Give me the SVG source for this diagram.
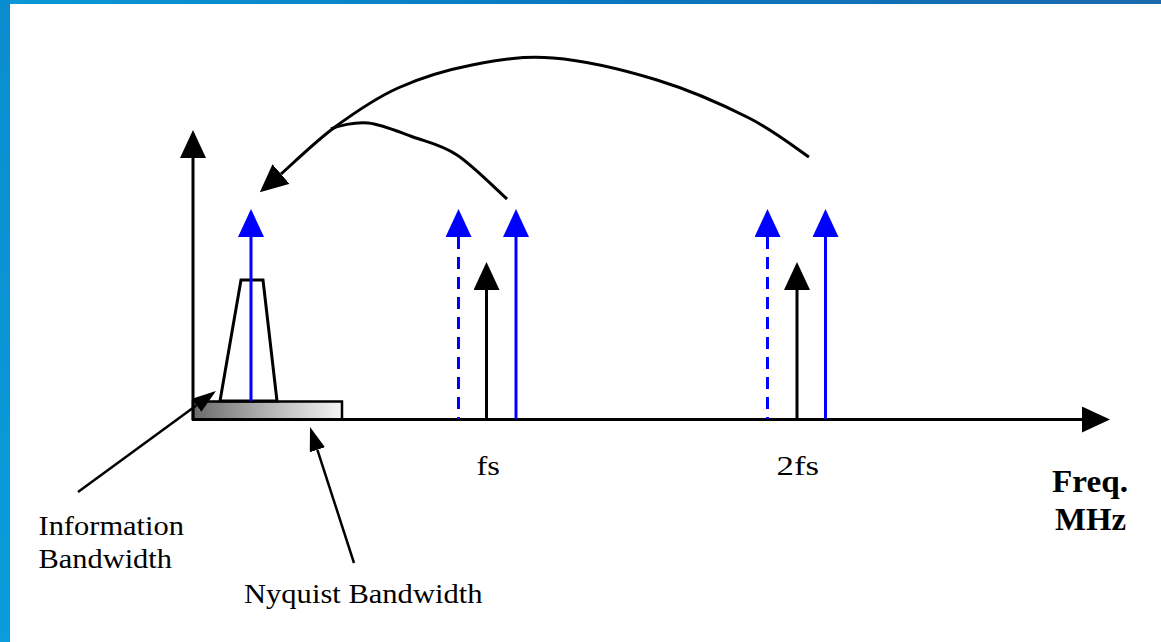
<svg xmlns="http://www.w3.org/2000/svg" width="1161" height="642" viewBox="0 0 1161 642">
  <style>
    .ax { stroke: #000; stroke-width: 3; fill: none; }
    .blue { stroke: #0000ff; stroke-width: 3; fill: none; }
    .dash { stroke-dasharray: 12 8; }
    .blk { stroke: #000; stroke-width: 3; fill: none; }
    .ptr { stroke: #000; stroke-width: 2.5; fill: none; }
    .lbl { font-family: "Liberation Serif", "Times New Roman", serif; font-size: 28px; fill: #000; }
    .unit { font-family: "Liberation Serif", "Times New Roman", serif; font-size: 31px; font-weight: bold; fill: #000; }
  </style>
  <defs>
    <linearGradient id="topBand" x1="0" y1="0" x2="1" y2="0">
      <stop offset="0" stop-color="#0b99d7"/>
      <stop offset="0.5" stop-color="#0a78bf"/>
      <stop offset="1" stop-color="#1c69ad"/>
    </linearGradient>
    <linearGradient id="leftBand" x1="0" y1="0" x2="0" y2="1">
      <stop offset="0" stop-color="#0a8dd0"/>
      <stop offset="1" stop-color="#0a9ddb"/>
    </linearGradient>
    <linearGradient id="bandFill" x1="0" y1="0" x2="1" y2="0">
      <stop offset="0" stop-color="#6a6a6a"/>
      <stop offset="0.5" stop-color="#b4b4b4"/>
      <stop offset="1" stop-color="#f4f4f4"/>
    </linearGradient>
    <marker id="ah-k" viewBox="0 0 28 26" markerWidth="28" markerHeight="26" refX="0" refY="13" orient="auto" markerUnits="userSpaceOnUse">
      <path d="M0,0 L28,13 L0,26 z" fill="#000"/>
    </marker>
    <marker id="ah-b" viewBox="0 0 28 26" markerWidth="28" markerHeight="26" refX="0" refY="13" orient="auto" markerUnits="userSpaceOnUse">
      <path d="M0,0 L28,13 L0,26 z" fill="#0000ff"/>
    </marker>
    <!-- same blue head, flipped for lines drawn from the head downwards -->
    <marker id="ah-b-start" viewBox="0 0 28 26" markerWidth="28" markerHeight="26" refX="0" refY="13" orient="auto-start-reverse" markerUnits="userSpaceOnUse">
      <path d="M0,0 L28,13 L0,26 z" fill="#0000ff"/>
    </marker>
    <marker id="ah-s" viewBox="0 0 24 16" markerWidth="24" markerHeight="16" refX="0" refY="8" orient="auto" markerUnits="userSpaceOnUse">
      <path d="M0,0 L24,8 L0,16 z" fill="#000"/>
    </marker>
  </defs>

  <!-- page frame -->
  <rect x="0" y="0" width="1161" height="642" fill="#ffffff"/>
  <rect x="0" y="0" width="1161" height="4" fill="url(#topBand)"/>
  <rect x="0" y="0" width="10" height="642" fill="url(#leftBand)"/>

  <!-- Nyquist band -->
  <g id="nyquist-band">
    <rect x="193" y="401.5" width="149" height="18" fill="url(#bandFill)" stroke="#000" stroke-width="2.5"/>
  </g>

  <!-- information spectrum -->
  <g id="info-spectrum">
    <polygon points="220,401 241,280 263,280 277,401" fill="none" stroke="#000" stroke-width="3"/>
    <line class="blue" x1="251" y1="401" x2="251" y2="237" marker-end="url(#ah-b)"/>
  </g>

  <!-- axes -->
  <g id="axes">
    <line class="ax" x1="193" y1="420" x2="193" y2="158" marker-end="url(#ah-k)"/>
    <line class="ax" x1="192" y1="419.5" x2="1082" y2="419.5" marker-end="url(#ah-k)"/>
  </g>

  <!-- components around fs -->
  <g id="tones-fs">
    <line class="blue dash" x1="458.5" y1="237" x2="458.5" y2="419" marker-start="url(#ah-b-start)"/>
    <line class="blk" x1="486.5" y1="419" x2="486.5" y2="290" marker-end="url(#ah-k)"/>
    <line class="blue" x1="516" y1="419" x2="516" y2="237" marker-end="url(#ah-b)"/>
  </g>

  <!-- components around 2fs -->
  <g id="tones-2fs">
    <line class="blue dash" x1="767.5" y1="237" x2="767.5" y2="419" marker-start="url(#ah-b-start)"/>
    <line class="blk" x1="797" y1="419" x2="797" y2="290" marker-end="url(#ah-k)"/>
    <line class="blue" x1="825.5" y1="419" x2="825.5" y2="237" marker-end="url(#ah-b)"/>
  </g>

  <!-- connectors -->
  <g id="connectors">
    <path class="blk" d="M809,157 C799,150.5 774.3,130.8 749,118 C723.7,105.2 689.7,90 657,80 C624.3,70 583.8,60.5 553,58 C522.2,55.5 497.8,60 472,65 C446.2,70 420.8,77.7 398,88 C375.2,98.3 354.5,112.7 335,127 C315.5,141.3 290,166.2 281,174" marker-end="url(#ah-k)"/>
    <path class="blk" d="M507,199 C498.7,191.7 472.7,165.3 457,155 C441.3,144.7 427.8,142.3 413,137 C398.2,131.7 381.8,124.3 368,123 C354.2,121.7 338,126 331,129"/>
    <line class="ptr" x1="78" y1="492" x2="196.6" y2="405.2" marker-end="url(#ah-s)"/>
    <line class="ptr" x1="354" y1="563" x2="317.4" y2="449.8" marker-end="url(#ah-s)"/>
  </g>

  <!-- labels -->
  <g id="labels">
    <text class="lbl" x="476.5" y="475" textLength="23.5" lengthAdjust="spacingAndGlyphs">fs</text>
    <text class="lbl" x="776.5" y="475" textLength="42.5" lengthAdjust="spacingAndGlyphs">2fs</text>
    <text class="unit" x="1052" y="491.5" textLength="76" lengthAdjust="spacingAndGlyphs">Freq.</text>
    <text class="unit" x="1055" y="530" textLength="71" lengthAdjust="spacingAndGlyphs">MHz</text>
    <text class="lbl" x="38.5" y="535" textLength="145.5" lengthAdjust="spacingAndGlyphs">Information</text>
    <text class="lbl" x="38.5" y="568" textLength="133.5" lengthAdjust="spacingAndGlyphs">Bandwidth</text>
    <text class="lbl" x="244" y="602.5" textLength="238.5" lengthAdjust="spacingAndGlyphs">Nyquist Bandwidth</text>
  </g>
</svg>
